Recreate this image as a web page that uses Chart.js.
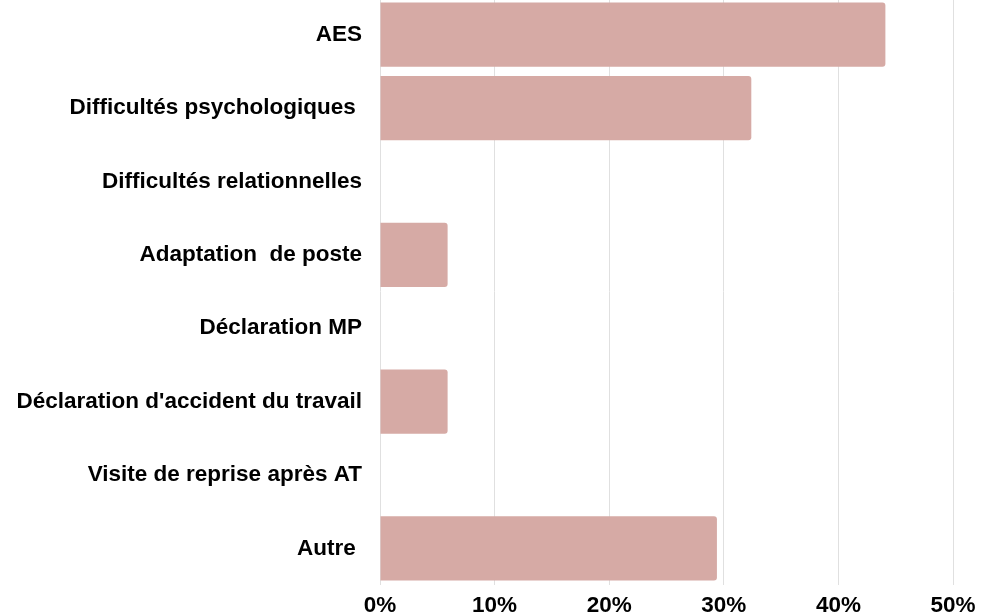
<!DOCTYPE html>
<html>
<head>
<meta charset="utf-8">
<script src="https://cdn.jsdelivr.net/npm/chart.js@4"></script>
<style>
    html, body { margin: 0; padding: 0; background: #fff; overflow: hidden; }
    #wrap { position: absolute; left: 0; top: -2px; width: 984px; height: 628px; }
</style>
</head>
<body>
<div id="wrap"><canvas id="chart"></canvas></div>
<script>
// Data
const categories = [
    'AES',
    'Difficultés psychologiques ',
    'Difficultés relationnelles',
    'Adaptation  de poste',
    'Déclaration MP',
    "Déclaration d'accident du travail",
    'Visite de reprise après AT',
    'Autre '
];
const percentages = [44.1, 32.4, 0, 5.9, 0, 5.9, 0, 29.4];
const xTicks = [0, 10, 20, 30, 40, 50];

const labelFont = { family: "'Liberation Sans', Arial, sans-serif", size: 22.5, weight: 'bold' };

const ctx = document.getElementById('chart').getContext('2d');
new Chart(ctx, {
    type: 'bar',
    data: {
        labels: categories,
        datasets: [{
            data: percentages,
            backgroundColor: '#d6aaa5',
            borderRadius: 3,
            categoryPercentage: 1,
            barPercentage: 0.875
        }]
    },
    options: {
        indexAxis: 'y',
        responsive: true,
        maintainAspectRatio: false,
        animation: false,
        layout: { padding: { left: 0, right: 31, top: 0, bottom: 0 } },
        plugins: {
            legend: { display: false },
            tooltip: { enabled: false }
        },
        scales: {
            x: {
                min: xTicks[0],
                max: xTicks[xTicks.length - 1],
                afterBuildTicks: (scale) => {
                    scale.ticks = xTicks.map(v => ({ value: v }));
                },
                grid: { color: '#e0e0e0', drawTicks: false },
                border: { display: false },
                ticks: {
                    color: '#000',
                    font: labelFont,
                    padding: 7,
                    callback: (v) => v + '%'
                }
            },
            y: {
                afterFit: (scale) => {
                    scale.width = 380;
                    scale.paddingTop = 0;
                    scale.paddingBottom = 0;
                },
                grid: { display: false, drawTicks: false },
                border: { display: false },
                ticks: {
                    color: '#000',
                    font: labelFont,
                    padding: 18
                }
            }
        }
    }
});
</script>
</body>
</html>
